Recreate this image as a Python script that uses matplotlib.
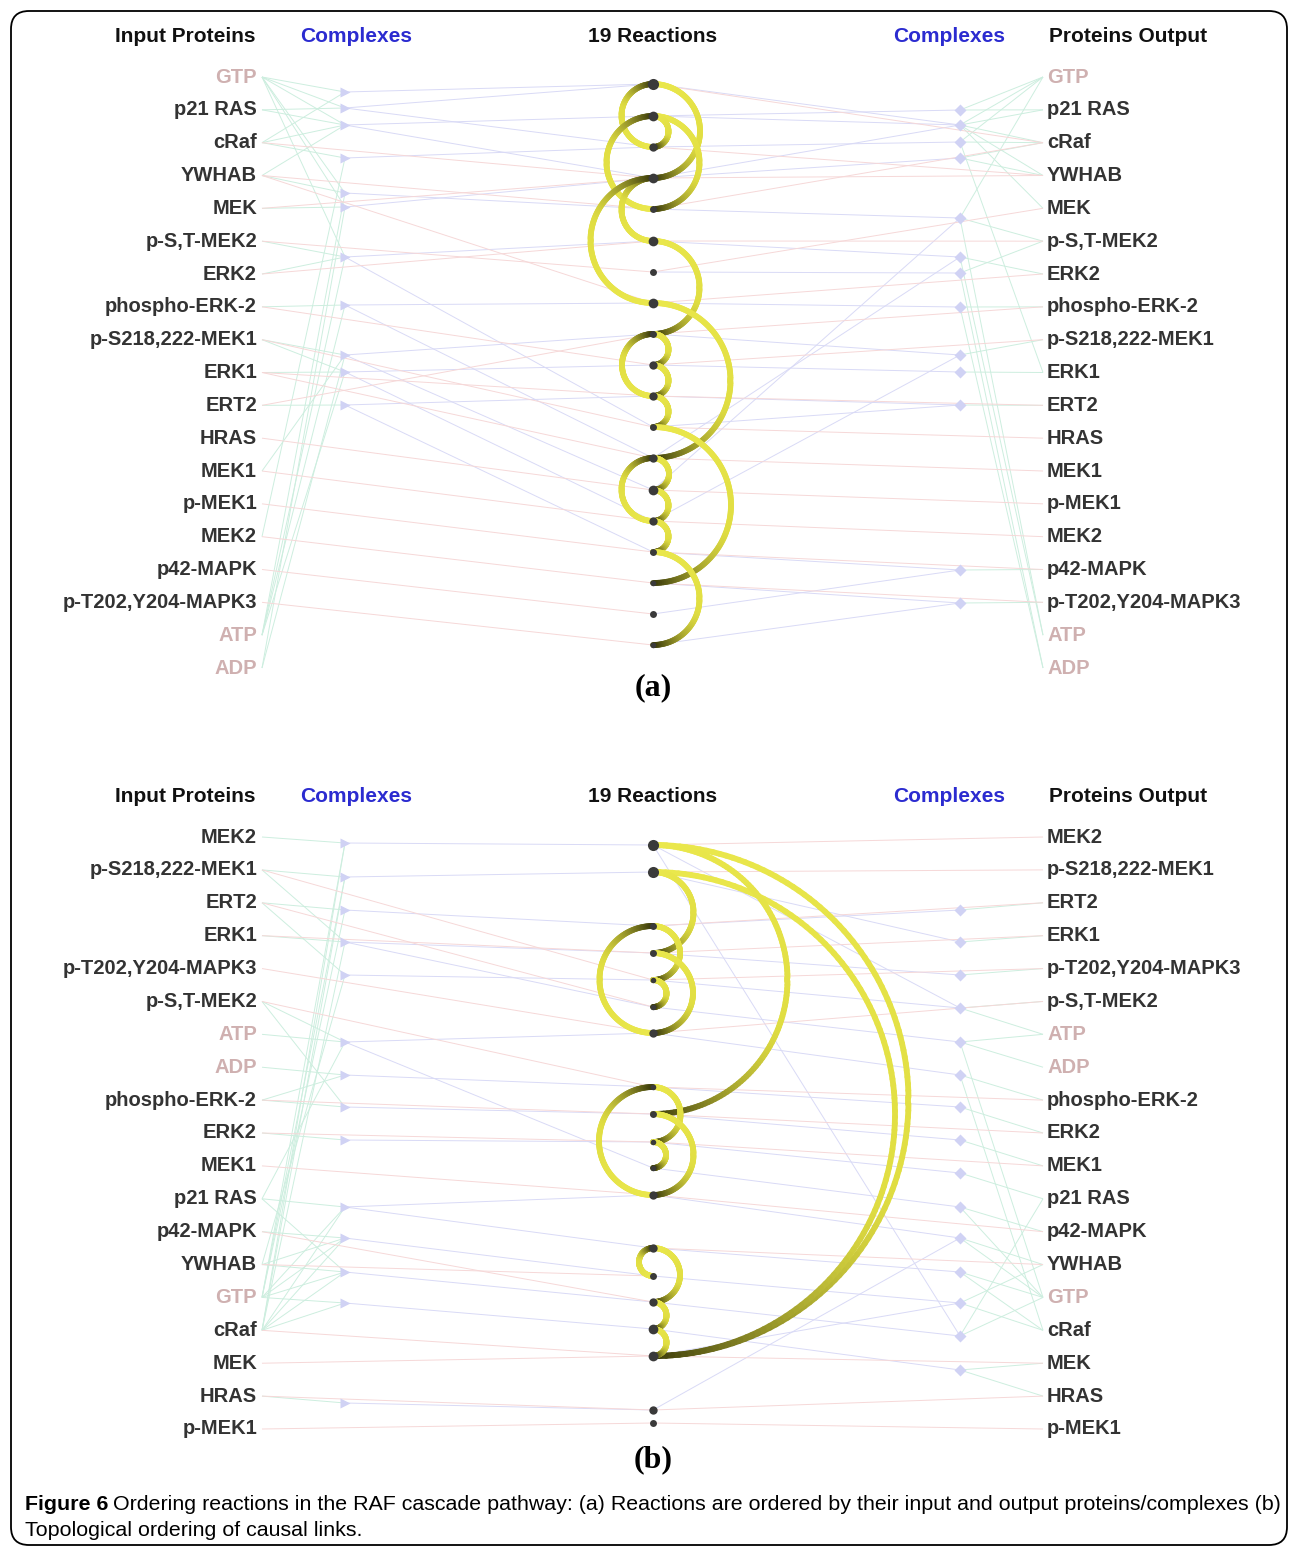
import numpy as np
import matplotlib.pyplot as plt
from matplotlib.collections import LineCollection
from matplotlib.patches import FancyBboxPatch

# ---- data ----
labels_a = ["GTP", "p21 RAS", "cRaf", "YWHAB", "MEK", "p-S,T-MEK2", "ERK2",
            "phospho-ERK-2", "p-S218,222-MEK1", "ERK1", "ERT2", "HRAS", "MEK1",
            "p-MEK1", "MEK2", "p42-MAPK", "p-T202,Y204-MAPK3", "ATP", "ADP"]
labels_b = ["MEK2", "p-S218,222-MEK1", "ERT2", "ERK1", "p-T202,Y204-MAPK3",
            "p-S,T-MEK2", "ATP", "ADP", "phospho-ERK-2", "ERK2", "MEK1", "p21 RAS",
            "p42-MAPK", "YWHAB", "GTP", "cRaf", "MEK", "HRAS", "p-MEK1"]
small_molecules = ["GTP", "ATP", "ADP"]

label_y_a = np.linspace(77, 668, 19)
label_y_b = np.linspace(837, 1429, 19)

react_y_a = [84, 116, 147, 178, 209, 241, 272, 303, 334, 365, 396, 427, 458,
             490, 521, 552, 583, 614, 645]
react_y_b = [845, 872, 926, 953, 980, 1007, 1033, 1087, 1114, 1142, 1168, 1195,
             1248, 1276, 1302, 1329, 1356, 1410, 1423]
dot_ms_a = [8, 7, 6, 7, 5, 7, 5, 7, 5, 6, 6, 5, 6, 7, 6, 5, 4, 5, 4]
dot_ms_b = [8, 8, 5, 5, 4, 4, 6, 4, 5, 4, 4, 6, 6, 5, 6, 7, 7, 6, 5]

# arcs: (source reaction, target reaction, side)
arcs_a = [(0, 3, 1), (1, 4, 1), (1, 2, 1), (5, 8, 1), (7, 12, 1), (8, 9, 1),
          (9, 10, 1), (10, 11, 1), (11, 16, 1), (12, 13, 1), (13, 14, 1),
          (14, 15, 1), (15, 18, 1),
          (2, 0, -1), (4, 1, -1), (5, 3, -1), (7, 3, -1), (10, 8, -1), (14, 12, -1)]
arcs_b = [(0, 16, 1), (1, 16, 1), (0, 8, 1), (1, 3, 1), (2, 4, 1), (3, 6, 1),
          (4, 5, 1), (7, 9, 1), (8, 11, 1), (9, 10, 1), (12, 14, 1), (14, 15, 1),
          (15, 16, 1),
          (6, 2, -1), (11, 7, -1), (13, 12, -1)]

# complexes (y of each node)
cplx_left_a = [92, 108, 125, 158, 193, 207, 257, 305, 355, 372, 405]
cplx_right_a = [110, 125, 142, 158, 218, 257, 273, 307, 355, 372, 405, 570, 603]
cplx_left_b = [843, 877, 910, 942, 975, 1042, 1075, 1107, 1140, 1207, 1238, 1272,
               1303, 1403]
cplx_right_b = [910, 942, 975, 1008, 1042, 1075, 1107, 1140, 1173, 1207, 1238,
                1272, 1303, 1336, 1370]

# links, left side: protein->complex, complex->reaction, protein->reaction
pc_left_a = [(0, 0), (0, 1), (0, 2), (0, 4), (0, 5), (0, 6), (1, 1), (1, 2), (2, 2),
             (2, 0), (2, 3), (3, 2), (3, 4), (4, 5), (5, 6), (6, 6), (7, 7), (8, 8),
             (8, 9), (9, 9), (10, 10), (17, 4), (17, 6), (17, 7), (17, 9), (18, 5),
             (18, 8), (14, 3), (12, 8)]
cr_left_a = [(0, 0), (1, 0), (2, 1), (2, 3), (3, 2), (4, 4), (5, 3), (6, 5), (7, 7),
             (8, 8), (9, 9), (10, 10), (1, 2), (6, 11), (8, 13), (9, 14), (10, 15),
             (7, 12)]
pr_left_a = [(2, 3), (3, 4), (4, 3), (5, 6), (6, 5), (7, 9), (8, 11), (9, 12),
             (10, 8), (11, 13), (12, 14), (13, 15), (14, 16), (15, 17), (16, 18),
             (3, 7), (9, 10)]
# right side: reaction->complex, complex->protein, reaction->protein
rc_right_a = [(0, 1), (1, 0), (2, 2), (3, 3), (1, 1), (4, 4), (5, 5), (6, 6), (7, 7),
              (8, 8), (9, 9), (10, 10), (15, 11), (16, 12), (12, 5), (13, 4), (14, 8),
              (17, 11), (18, 12), (11, 10), (3, 1)]
cp_right_a = [(0, 0), (0, 1), (1, 0), (1, 1), (1, 2), (1, 3), (1, 4), (2, 2), (2, 0),
              (3, 3), (3, 2), (4, 0), (4, 5), (5, 6), (6, 5), (7, 7), (8, 8), (9, 9),
              (10, 10), (4, 17), (6, 18), (11, 15), (12, 16), (5, 17), (7, 18), (2, 9)]
rp_right_a = [(3, 3), (4, 2), (5, 5), (6, 4), (7, 6), (8, 7), (9, 8), (10, 10),
              (11, 11), (12, 12), (13, 13), (14, 14), (15, 15), (16, 16), (0, 2), (2, 3)]

pc_left_b = [(0, 0), (1, 1), (1, 3), (2, 2), (2, 4), (3, 3), (5, 5), (5, 7), (8, 7),
             (8, 6), (9, 8), (11, 9), (11, 11), (12, 10), (13, 10), (13, 11), (14, 9),
             (14, 10), (14, 11), (14, 12), (15, 12), (15, 11), (15, 10), (15, 9),
             (17, 13), (6, 5), (7, 6), (14, 0), (14, 1), (15, 0), (15, 1), (14, 2),
             (15, 3), (13, 4), (11, 5)]
cr_left_b = [(0, 0), (1, 1), (2, 2), (3, 3), (4, 4), (5, 6), (6, 7), (7, 8), (8, 9),
             (9, 12), (10, 13), (11, 14), (12, 15), (13, 17), (3, 5), (5, 10), (9, 11)]
pr_left_b = [(1, 4), (2, 5), (3, 3), (5, 7), (8, 8), (9, 9), (10, 11), (13, 13),
             (15, 16), (16, 16), (18, 18), (4, 6), (12, 14), (17, 17)]
rc_right_b = [(0, 3), (1, 1), (2, 0), (3, 2), (4, 3), (5, 4), (6, 5), (7, 6), (8, 7),
              (9, 8), (10, 9), (11, 10), (12, 11), (13, 12), (14, 13), (15, 14),
              (16, 12), (17, 10), (0, 13)]
cp_right_b = [(0, 2), (1, 3), (2, 4), (3, 5), (4, 6), (4, 7), (5, 8), (6, 9), (7, 10),
              (8, 11), (9, 12), (10, 13), (11, 14), (12, 15), (13, 14), (14, 16),
              (10, 14), (11, 15), (12, 13), (13, 11), (9, 14), (4, 14), (5, 15),
              (14, 17), (3, 6)]
rp_right_b = [(0, 0), (1, 1), (2, 2), (3, 3), (4, 4), (6, 5), (7, 8), (8, 9), (9, 10),
              (12, 13), (16, 16), (18, 18), (17, 17), (11, 12)]

# ---- figure ----
W, H = 1290, 1549
fig = plt.figure(figsize=(W / 100, H / 100), dpi=100)
ax = fig.add_axes([0, 0, 1, 1])
ax.set_xlim(0, W)
ax.set_ylim(H, 0)
ax.axis("off")

X_LAB_L, X_PL, X_CL, X_R, X_CR, X_PR, X_LAB_R = 257, 262, 345, 653, 960, 1043, 1047
GREEN, BLUE, RED = "#cdeedf", "#d9daf6", "#f6d8d8"
FONT = ["Liberation Sans", "DejaVu Sans"]

yellow = np.array([0.92, 0.91, 0.30])
olive = np.array([0.76, 0.75, 0.14])
dark = np.array([0.25, 0.25, 0.05])


def arc_color(t):
    if t < 0.6:
        return yellow + (olive - yellow) * (t / 0.6) * 0.25
    s = (t - 0.6) / 0.4
    c0 = yellow + (olive - yellow) * 0.25
    return c0 + (dark - c0) * s ** 1.6


def draw_links(pairs, ya_list, xa, yb_list, xb, color):
    segs = [[(xa, ya_list[a]), (xb, yb_list[b])] for a, b in pairs]
    ax.add_collection(LineCollection(segs, colors=color, linewidths=0.7, zorder=1))


def draw_panel(labels, label_y, react_y, dot_ms, arcs, cl, cr,
               pc_l, cr_l, pr_l, rc_r, cp_r, rp_r, head_y, tag, tag_y):
    # faint links
    draw_links(pc_l, label_y, X_PL, cl, X_CL, GREEN)
    draw_links(cr_l, cl, X_CL, react_y, X_R, BLUE)
    draw_links(pr_l, label_y, X_PL, react_y, X_R, RED)
    draw_links(rc_r, react_y, X_R, cr, X_CR, BLUE)
    draw_links(cp_r, cr, X_CR, label_y, X_PR, GREEN)
    draw_links(rp_r, react_y, X_R, label_y, X_PR, RED)
    ax.plot([X_CL] * len(cl), cl, ">", ms=7, color="#d0d2f4", mec="none", zorder=2)
    ax.plot([X_CR] * len(cr), cr, "D", ms=6, color="#d0d2f4", mec="none", zorder=2)

    # arcs
    for s, d, side in arcs:
        y0, y1 = react_y[s], react_y[d]
        r = abs(y1 - y0) / 2
        th = np.linspace(0, np.pi, 120)
        xs = X_R + side * r * np.sin(th)
        ys = y0 + (y1 - y0) * (1 - np.cos(th)) / 2
        pts = np.column_stack([xs, ys])
        segs = np.stack([pts[:-1], pts[1:]], axis=1)
        cols = [arc_color(t) for t in np.linspace(0, 1, len(segs))]
        ax.add_collection(LineCollection(segs, colors=cols, linewidths=4.2,
                                         capstyle="round", zorder=3))
    for y, ms in zip(react_y, dot_ms):
        ax.plot(X_R, y, "o", ms=ms, color="#3a3a3a", mec="none", zorder=4)

    # labels
    for lab, y in zip(labels, label_y):
        c = "#cfb0b0" if lab in small_molecules else "#333333"
        ax.text(X_LAB_L, y, lab, ha="right", va="center", fontsize=14.5,
                fontweight="bold", color=c, family=FONT)
        ax.text(X_LAB_R, y, lab, ha="left", va="center", fontsize=14.5,
                fontweight="bold", color=c, family=FONT)

    hdr = dict(va="center", fontsize=15, fontweight="bold", family=FONT)
    ax.text(185, head_y, "Input Proteins", ha="center", color="#111111", **hdr)
    ax.text(356, head_y, "Complexes", ha="center", color="#2b2bd0", **hdr)
    ax.text(X_R, head_y, "19 Reactions", ha="center", color="#111111", **hdr)
    ax.text(949, head_y, "Complexes", ha="center", color="#2b2bd0", **hdr)
    ax.text(1128, head_y, "Proteins Output", ha="center", color="#111111", **hdr)
    ax.text(X_R, tag_y, tag, ha="center", va="center", fontsize=23,
            fontweight="bold", family=["Liberation Serif", "DejaVu Serif"])


draw_panel(labels_a, label_y_a, react_y_a, dot_ms_a, arcs_a, cplx_left_a,
           cplx_right_a, pc_left_a, cr_left_a, pr_left_a, rc_right_a, cp_right_a,
           rp_right_a, 36, "(a)", 688)
draw_panel(labels_b, label_y_b, react_y_b, dot_ms_b, arcs_b, cplx_left_b,
           cplx_right_b, pc_left_b, cr_left_b, pr_left_b, rc_right_b, cp_right_b,
           rp_right_b, 796, "(b)", 1460)

# frame
ax.add_patch(FancyBboxPatch((11, 11), 1276, 1534, boxstyle="round,pad=0,rounding_size=18",
                            fill=False, ec="black", lw=1.3, zorder=5))

# caption, sized so the first line spans the frame like in the original
cap_font = ["Liberation Sans", "DejaVu Sans"]
cap_fs = 13.5
t1 = ax.text(25, 1504, "Figure 6", ha="left", va="center", fontsize=cap_fs,
             fontweight="bold", family=cap_font)
t2 = ax.text(0, 1504, "Ordering reactions in the RAF cascade pathway: (a) Reactions are "
             "ordered by their input and output proteins/complexes (b)", ha="left",
             va="center", fontsize=cap_fs, family=cap_font)
t3 = ax.text(25, 1530, "Topological ordering of causal links.", ha="left", va="center",
             fontsize=cap_fs, family=cap_font)


def place_caption():
    fig.canvas.draw()
    bb = t1.get_window_extent()
    t2.set_x(bb.x1 + 5)
    fig.canvas.draw()
    return t2.get_window_extent().x1


right = place_caption()
scale = (1277 - 25) / (right - 25)
for t in (t1, t2, t3):
    t.set_fontsize(cap_fs * scale)
place_caption()

fig.savefig("out.png", dpi=100)
